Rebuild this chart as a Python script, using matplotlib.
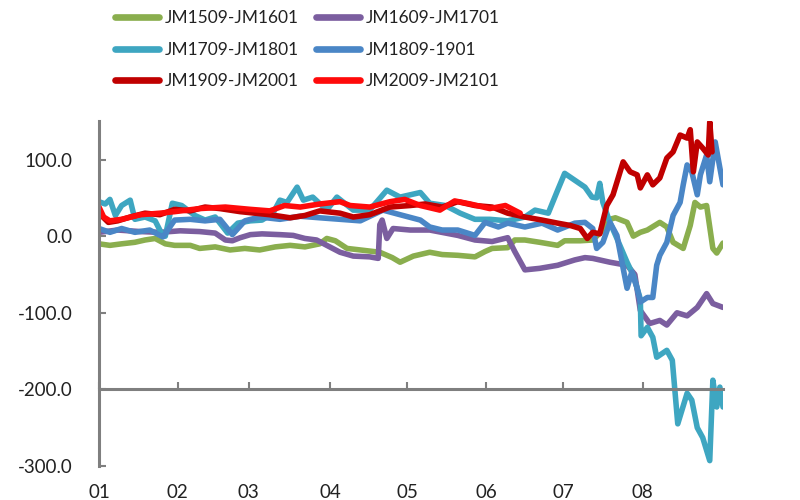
import matplotlib.pyplot as plt

# x positions are in months (1.0 = start of 01)
green_x = [1.00, 1.14, 1.29, 1.46, 1.59, 1.72, 1.85, 1.97, 2.17, 2.29,
           2.49, 2.68, 2.87, 3.06, 3.26, 3.45, 3.64, 3.83, 3.92, 4.03,
           4.18, 4.35, 4.60, 4.76, 4.86, 5.03, 5.24, 5.40, 5.60, 5.82,
           5.95, 6.04, 6.24, 6.33, 6.46, 6.65, 6.88, 6.97, 7.17, 7.33,
           7.46, 7.55, 7.62, 7.77, 7.85, 7.94, 8.03, 8.19, 8.28, 8.36,
           8.49, 8.58, 8.64, 8.71, 8.79, 8.87, 8.92, 9.00]
green_y = [-10, -12, -10, -8, -5, -3, -10, -12, -12, -16,
           -14, -18, -16, -18, -14, -12, -14, -10, -3, -6,
           -16, -18, -21, -28, -34, -26, -21, -24, -25, -27,
           -20, -16, -15, -5, -5, -8, -12, -6, -6, -5,
           8, 22, 24, 18, 0, 5, 8, 18, 12, -8,
           -16, 14, 44, 38, 40, -16, -22, -9]

purple_x = [1.00, 1.24, 1.53, 1.78, 2.04, 2.29, 2.49, 2.62, 2.71, 2.81,
            2.94, 3.09, 3.32, 3.49, 3.64, 3.79, 3.92, 4.09, 4.26, 4.47,
            4.58, 4.60, 4.63, 4.69, 4.77, 4.99, 5.24, 5.60, 5.82, 6.04,
            6.24, 6.33, 6.46, 6.65, 6.88, 7.10, 7.23, 7.33, 7.55, 7.77,
            7.87, 7.94, 8.06, 8.19, 8.28, 8.41, 8.54, 8.67, 8.79, 8.87,
            9.00]
purple_y = [5, 8, 6, 5, 7, 6, 4, -5, -6, -2,
            2, 3, 2, 1, -3, -5, -12, -21, -26, -27,
            -29, 15, 21, -3, 10, 8, 8, 1, -5, -7,
            -2, -20, -44, -42, -38, -31, -28, -29, -34, -38,
            -50, -97, -114, -110, -116, -100, -104, -93, -75, -88,
            -93]

teal_x = [1.00, 1.08, 1.14, 1.21, 1.29, 1.40, 1.46, 1.59, 1.72, 1.81,
          1.85, 1.94, 2.06, 2.23, 2.36, 2.49, 2.65, 2.78, 2.94, 3.09,
          3.23, 3.32, 3.41, 3.54, 3.62, 3.74, 3.92, 4.05, 4.26, 4.47,
          4.69, 4.86, 5.12, 5.24, 5.44, 5.63, 5.82, 6.01, 6.24, 6.46,
          6.59, 6.76, 6.88, 6.97, 7.10, 7.23, 7.32, 7.38, 7.42, 7.46,
          7.55, 7.64, 7.77, 7.85, 7.94, 7.95, 8.03, 8.10, 8.15, 8.28,
          8.35, 8.42, 8.54, 8.60, 8.67, 8.74, 8.83, 8.87, 8.92, 8.96,
          9.00]
teal_y = [45, 42, 48, 27, 40, 47, 22, 25, 20, 2,
          0, 43, 40, 27, 21, 25, 4, 17, 20, 21,
          30, 47, 44, 64, 47, 51, 34, 51, 34, 34,
          60, 51, 57, 43, 40, 30, 22, 22, 20, 25,
          34, 30, 60, 82, 73, 64, 51, 50, 69, 44,
          18, -3, -34, -51, -82, -130, -119, -132, -158, -149,
          -162, -245, -205, -214, -250, -263, -293, -188, -223, -197,
          -223]

blue_x = [1.00, 1.14, 1.29, 1.46, 1.65, 1.82, 1.97, 2.17, 2.36, 2.55,
          2.71, 2.87, 3.06, 3.32, 3.58, 3.83, 4.09, 4.35, 4.64, 4.86,
          5.12, 5.24, 5.40, 5.60, 5.82, 5.95, 6.12, 6.24, 6.46, 6.68,
          6.88, 7.10, 7.23, 7.33, 7.38, 7.46, 7.55, 7.64, 7.72, 7.77,
          7.83, 7.90, 7.94, 8.03, 8.10, 8.15, 8.19, 8.28, 8.36, 8.45,
          8.49, 8.54, 8.60, 8.67, 8.71, 8.79, 8.83, 8.90, 8.96, 9.00]
blue_y = [10, 5, 10, 5, 8, -1, 21, 22, 20, 22,
          2, 20, 25, 22, 26, 24, 22, 20, 34, 28,
          21, 12, 8, 8, 1, 18, 12, 17, 12, 17,
          8, 17, 18, 10, -16, -8, 18, 1, -42, -68,
          -47, -68, -86, -80, -80, -38, -25, -8, 27, 44,
          67, 93, 84, 54, 80, 106, 71, 123, 89, 67]

darkred_x = [1.00, 1.12, 1.24, 1.40, 1.59, 1.78, 1.97, 2.17, 2.36, 2.55,
             2.81, 3.00, 3.19, 3.45, 3.64, 3.83, 4.09, 4.26, 4.47, 4.73,
             4.99, 5.18, 5.40, 5.60, 5.82, 6.04, 6.24, 6.46, 6.68, 6.88,
             7.04, 7.17, 7.26, 7.33, 7.42, 7.51, 7.59, 7.72, 7.81, 7.90,
             7.94, 8.03, 8.10, 8.19, 8.28, 8.36, 8.45, 8.54, 8.58, 8.62,
             8.67, 8.74, 8.81, 8.83, 8.86]
darkred_y = [30, 18, 20, 25, 30, 28, 35, 33, 38, 36,
             32, 30, 28, 24, 27, 33, 30, 25, 28, 38,
             40, 42, 38, 45, 40, 38, 30, 25, 21, 17,
             14, 10, -3, 5, 3, 40, 54, 97, 84, 80,
             63, 80, 67, 76, 102, 110, 132, 128, 139, 84,
             123, 115, 106, 149, 110]

red_x = [1.00, 1.06, 1.14, 1.29, 1.53, 1.78, 1.97, 2.29, 2.62, 2.94,
         3.19, 3.38, 3.58, 3.83, 4.09, 4.22, 4.47, 4.73, 4.92, 5.12,
         5.37, 5.56, 5.76, 6.01, 6.21, 6.40]
red_y = [38, 25, 20, 22, 28, 30, 32, 36, 38, 35,
         33, 40, 38, 42, 45, 40, 38, 45, 48, 40,
         34, 46, 42, 36, 40, 30]

month_ticks = [1.0, 2.01, 2.92, 3.96, 4.95, 5.96, 6.95, 7.97]
month_labels = ["01", "02", "03", "04", "05", "06", "07", "08"]
y_ticks = [100, 0, -100, -200, -300]

series = [
    ("JM1509-JM1601", green_x, green_y, "#8AAE4E"),
    ("JM1609-JM1701", purple_x, purple_y, "#7B5E9F"),
    ("JM1709-JM1801", teal_x, teal_y, "#3EA6C1"),
    ("JM1809-1901", blue_x, blue_y, "#4A86C6"),
    ("JM1909-JM2001", darkred_x, darkred_y, "#C00000"),
    ("JM2009-JM2101", red_x, red_y, "#FF0A0A"),
]

fig = plt.figure(figsize=(8, 5), dpi=100)
ax = fig.add_axes([0.12375, 0.068, 0.78, 0.6895])

lines = {}
for name, xs, ys, color in series:
    ln, = ax.plot(xs, ys, color=color, lw=4.0, solid_joinstyle="round",
                  solid_capstyle="round", label=name)
    lines[name] = ln

ax.set_xlim(1, 9.0)
ax.set_ylim(-300, 150)

axis_grey = "#7F7F7F"
for side in ["top", "right"]:
    ax.spines[side].set_visible(False)
ax.spines["left"].set_color(axis_grey)
ax.spines["left"].set_linewidth(2.2)
ax.spines["bottom"].set_color(axis_grey)
ax.spines["bottom"].set_linewidth(2.2)
ax.spines["bottom"].set_position(("data", -200))

ax.set_yticks(y_ticks)
ax.set_yticklabels([f"{v:.1f}" for v in y_ticks])
ax.set_xticks(month_ticks)
ax.set_xticklabels(month_labels)
ax.tick_params(axis="y", direction="in", length=5, width=1.5, color=axis_grey,
               pad=19, labelsize=13.5, labelcolor="#222222")
ax.tick_params(axis="x", direction="in", length=5, width=1.5, color=axis_grey,
               pad=68, labelsize=13.5, labelcolor="#222222")
for lbl in ax.get_xticklabels() + ax.get_yticklabels():
    lbl.set_family(["Lato", "DejaVu Sans"])

order = ["JM1509-JM1601", "JM1709-JM1801", "JM1909-JM2001",
         "JM1609-JM1701", "JM1809-1901", "JM2009-JM2101"]
leg = fig.legend([lines[n] for n in order], order, ncol=2,
                 loc="upper left", bbox_to_anchor=(0.144, 0.98),
                 frameon=False, borderpad=0, borderaxespad=0,
                 handlelength=2.5, handletextpad=0.35, columnspacing=1.0,
                 labelspacing=0.9,
                 prop={"family": ["Lato", "DejaVu Sans"], "size": 12.5})
for h in leg.legend_handles:
    h.set_linewidth(4.8)
for t in leg.get_texts():
    t.set_color("#222222")

fig.savefig("out.png", dpi=100)
